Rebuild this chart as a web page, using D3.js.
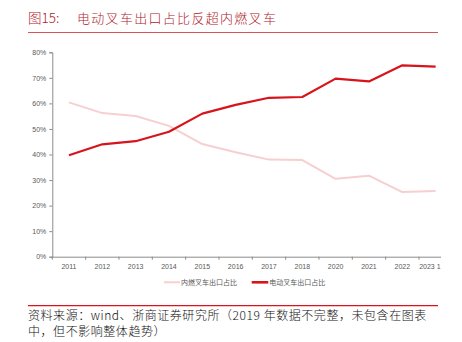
<!DOCTYPE html>
<html><head><meta charset="utf-8">
<script src="https://cdn.jsdelivr.net/npm/d3@7/dist/d3.min.js"></script>
<style>
html,body{margin:0;padding:0;background:#fff;}
svg{display:block;}
</style></head>
<body>
<svg id="c" width="462" height="342"></svg>
<script>
const categories = ["2011","2012","2013","2014","2015","2016","2017","2018","2020","2021","2022","2023 1"];
const iceShare = [60.4,56.2,55.1,51.2,44.1,40.9,38.0,37.8,30.5,31.7,25.3,25.7];
const electricShare = [39.7,44.0,45.2,48.9,56.0,59.4,62.2,62.5,69.7,68.6,74.9,74.4];
const yTicks = [0,10,20,30,40,50,60,70,80];
const seriesNames = ["内燃叉车出口占比","电动叉车出口占比"];
const titleLabel = "图15:";
const titleText = "电动叉车出口占比反超内燃叉车";
const sourceLines = ["资料来源：wind、浙商证券研究所（2019 年数据不完整，未包含在图表","中，但不影响整体趋势）"];

const svg = d3.select("#c");
const cjk = "'Noto Sans CJK SC','Noto Sans',sans-serif";
const red = "#d7141c", pink = "#f7cfd0", axisCol = "#8c8c8c", labCol = "#595959";

// title
svg.append("text").attr("x",28).attr("y",23).attr("fill","#b0222c")
  .attr("font-family",cjk).attr("font-size",13.5).attr("font-weight",300).text(titleLabel);
svg.append("text").attr("x",77).attr("y",23).attr("fill","#b0222c")
  .attr("font-family",cjk).attr("font-size",13).attr("font-weight",300).attr("letter-spacing",1.3).text(titleText);
svg.append("line").attr("x1",28).attr("x2",438).attr("y1",32.5).attr("y2",32.5)
  .attr("stroke","#d9545a").attr("stroke-width",1.2);

// chart
const x = d3.scaleBand().domain(categories).range([52.3,452.3]);
const y = d3.scaleLinear().domain([0,80]).range([256.7,52.3]);

svg.append("defs").append("clipPath").attr("id","clip")
  .append("rect").attr("x",0).attr("y",40).attr("width",441).attr("height",260);
const g = svg.append("g").attr("clip-path","url(#clip)");

const yAx = g.append("g").attr("transform","translate(52.3,0)")
  .call(d3.axisLeft(y).tickValues(yTicks).tickSize(3).tickPadding(3).tickFormat(d=>d+"%"));
const xAx = g.append("g").attr("transform","translate(0,256.7)")
  .call(d3.axisBottom(x).tickSize(0).tickPadding(7));
// boundary ticks for x
xAx.selectAll(".bt").data(categories.map((c,i)=>i)).enter().append("line")
  .attr("x1",i=>x.range()[0]+i*x.step()).attr("x2",i=>x.range()[0]+i*x.step())
  .attr("y1",0).attr("y2",3).attr("stroke",axisCol);
[yAx,xAx].forEach(a=>{
  a.selectAll(".domain").attr("stroke",axisCol).attr("stroke-width",1);
  a.selectAll(".tick line").attr("stroke",axisCol);
  a.selectAll("text").attr("fill",labCol).attr("font-size",7)
   .attr("font-family","'Liberation Sans',Arial,sans-serif");
});
xAx.selectAll(".domain").attr("d","M52.3,0.5H452.3");
// last label is cut at the crop edge: begin at its visible start
xAx.selectAll(".tick text").filter(d=>d===categories[categories.length-1])
  .attr("text-anchor","start").attr("x",-16.5);

const line = d3.line().x((d,i)=>x(categories[i])+x.bandwidth()/2).y(d=>y(d));
g.append("path").datum(iceShare).attr("d",line).attr("fill","none")
  .attr("stroke",pink).attr("stroke-width",2).attr("stroke-linejoin","round");
g.append("path").datum(electricShare).attr("d",line).attr("fill","none")
  .attr("stroke",red).attr("stroke-width",2.2).attr("stroke-linejoin","round");

// legend
const lg = svg.append("g");
const legItems = [{name:seriesNames[0],col:pink,x1:164,x2:180,w:2},{name:seriesNames[1],col:red,x1:251.7,x2:268.3,w:2.6}];
legItems.forEach(it=>{
  lg.append("line").attr("x1",it.x1).attr("x2",it.x2).attr("y1",282.3).attr("y2",282.3)
    .attr("stroke",it.col).attr("stroke-width",it.w);
  lg.append("text").attr("x",it.x2+1).attr("y",284.8).attr("fill",labCol)
    .attr("font-family",cjk).attr("font-size",7).text(it.name);
});

// source
svg.append("line").attr("x1",28).attr("x2",438).attr("y1",305.7).attr("y2",305.7)
  .attr("stroke","#d9141c").attr("stroke-width",1.2);
sourceLines.forEach((t,i)=>{
  svg.append("text").attr("x",28).attr("y",319.5+i*16.7).attr("fill","#111")
    .attr("font-family",cjk).attr("font-size",12).attr("font-weight",300)
    .attr("letter-spacing",0.55).text(t);
});
</script>
</body></html>
